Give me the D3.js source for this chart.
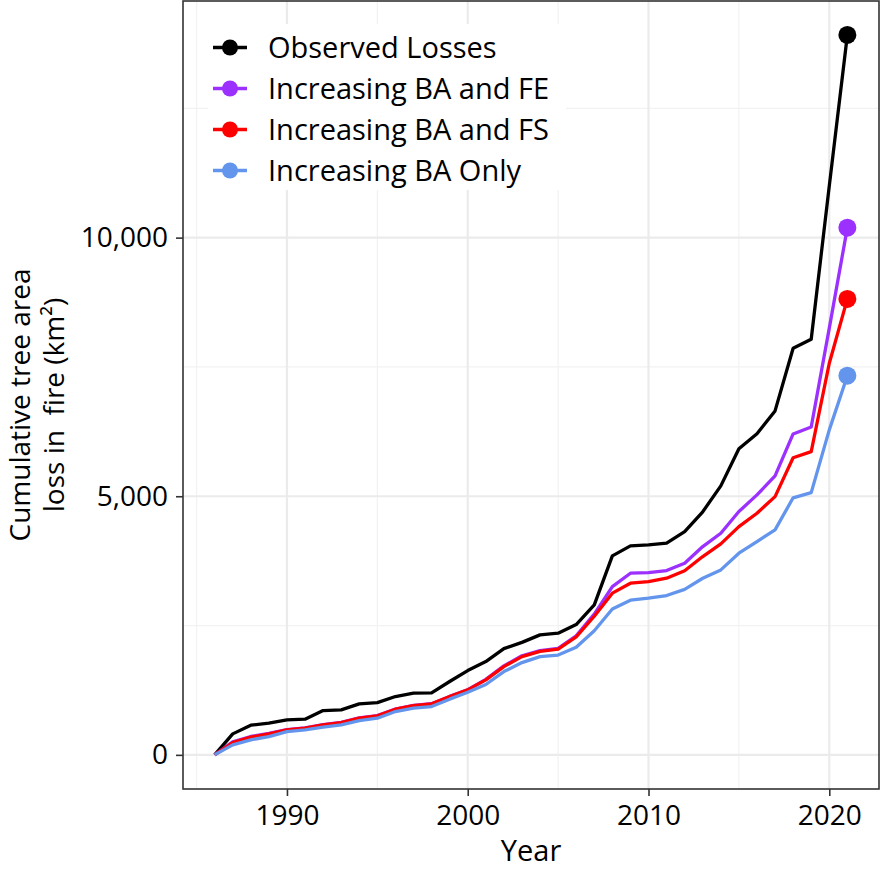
<!DOCTYPE html>
<html>
<head>
<meta charset="utf-8">
<script src="https://cdn.jsdelivr.net/npm/d3@7"></script>
<style>
  body { margin: 0; background: #fff; }
  svg text { font-family: "Open Sans", sans-serif; fill: #000; }
</style>
</head>
<body>
<div id="d3"></div>
<script>
const years = d3.range(1986, 2022);

const observed = [0, 406, 574, 612, 676, 690, 857, 870, 986, 1011, 1128, 1192, 1200, 1418, 1630, 1804,
    2055, 2175, 2320, 2352, 2520, 2900, 3847, 4040, 4060, 4092, 4317, 4700, 5200, 5920,
    6210, 6650, 7862, 8036, 11000, 13918];
const ba_fe = [0, 250, 355, 415, 490, 520, 585, 630, 715, 760, 885, 955, 990, 1130, 1260, 1460,
    1720, 1915, 2015, 2060, 2300, 2720, 3254, 3512, 3525, 3563, 3705, 4027, 4285, 4704,
    5026, 5393, 6205, 6340, 8250, 10193];
const ba_fs = [0, 238, 342, 406, 483, 516, 580, 625, 709, 754, 883, 953, 986, 1128, 1257, 1450,
    1707, 1900, 2000, 2045, 2280, 2680, 3126, 3319, 3351, 3415, 3560, 3834, 4079, 4413,
    4672, 4993, 5745, 5863, 7572, 8815];
const ba_only = [0, 193, 290, 354, 451, 483, 535, 580, 663, 709, 837, 902, 934, 1077, 1210, 1360,
    1610, 1784, 1900, 1930, 2080, 2400, 2820, 2990, 3030, 3080, 3200, 3415, 3576, 3899,
    4124, 4350, 4970, 5070, 6283, 7330];

const series_names = ["Observed Losses", "Increasing BA and FE", "Increasing BA and FS", "Increasing BA Only"];
const series_colors = ["#000000", "#9B30FF", "#FF0000", "#6495ED"];
const y_ticks = [0, 5000, 10000];
const x_ticks = [1990, 2000, 2010, 2020];

const width = 881;
const height = 869;
const panel = { left: 183, right: 879, top: 1, bottom: 789 };

const series = [observed, ba_fe, ba_fs, ba_only].map((vals, i) => {
    return {
        name: series_names[i],
        color: series_colors[i],
        values: vals.map((v, j) => ({ year: years[j], value: v }))
    };
});

const x = d3.scaleLinear().domain([1984.25, 2022.75]).range([panel.left, panel.right]);
const y = d3.scaleLinear().domain([-660, 14575]).range([panel.bottom, panel.top]);

const svg = d3.select("#d3")
    .append("svg")
    .attr("width", width)
    .attr("height", height);

// grid lines
const grid = svg.append("g");
grid.selectAll(".minor-x")
    .data([1985, 1995, 2005, 2015])
    .enter()
    .append("line")
    .attr("x1", d => x(d)).attr("x2", d => x(d))
    .attr("y1", panel.top).attr("y2", panel.bottom)
    .attr("stroke", "#F2F2F2").attr("stroke-width", 1.2);
grid.selectAll(".minor-y")
    .data([2500, 7500, 12500])
    .enter()
    .append("line")
    .attr("x1", panel.left).attr("x2", panel.right)
    .attr("y1", d => y(d)).attr("y2", d => y(d))
    .attr("stroke", "#F2F2F2").attr("stroke-width", 1.2);
grid.selectAll(".major-x")
    .data(x_ticks)
    .enter()
    .append("line")
    .attr("x1", d => x(d)).attr("x2", d => x(d))
    .attr("y1", panel.top).attr("y2", panel.bottom)
    .attr("stroke", "#EBEBEB").attr("stroke-width", 2.2);
grid.selectAll(".major-y")
    .data(y_ticks)
    .enter()
    .append("line")
    .attr("x1", panel.left).attr("x2", panel.right)
    .attr("y1", d => y(d)).attr("y2", d => y(d))
    .attr("stroke", "#EBEBEB").attr("stroke-width", 2.2);

// lines
const line = d3.line()
    .x(d => x(d.year))
    .y(d => y(d.value));

svg.selectAll(".series")
    .data(series)
    .enter()
    .append("path")
    .attr("fill", "none")
    .attr("stroke", d => d.color)
    .attr("stroke-width", 3.3)
    .attr("stroke-linejoin", "round")
    .attr("d", d => line(d.values));

// end points
svg.selectAll(".endpoint")
    .data(series)
    .enter()
    .append("circle")
    .attr("cx", d => x(d.values[d.values.length - 1].year))
    .attr("cy", d => y(d.values[d.values.length - 1].value))
    .attr("r", 9)
    .attr("fill", d => d.color);

// panel border
svg.append("rect")
    .attr("x", panel.left)
    .attr("y", panel.top)
    .attr("width", panel.right - panel.left)
    .attr("height", panel.bottom - panel.top)
    .attr("fill", "none")
    .attr("stroke", "#333333")
    .attr("stroke-width", 1.6);

// axes
const x_axis = svg.append("g")
    .attr("transform", `translate(0,${panel.bottom})`)
    .call(d3.axisBottom(x).tickValues(x_ticks).tickFormat(d3.format("d")).tickSize(7).tickPadding(9));
const y_axis = svg.append("g")
    .attr("transform", `translate(${panel.left},0)`)
    .call(d3.axisLeft(y).tickValues(y_ticks).tickFormat(d3.format(",")).tickSize(7).tickPadding(8));

[x_axis, y_axis].forEach(a => {
    a.select(".domain").remove();
    a.selectAll(".tick line").attr("stroke", "#333333").attr("stroke-width", 1.6);
    a.selectAll(".tick text").attr("font-size", 28).attr("font-family", "'Open Sans', sans-serif").attr("fill", "#000");
});

// axis titles
svg.append("text")
    .attr("x", (panel.left + panel.right) / 2)
    .attr("y", 861)
    .attr("text-anchor", "middle")
    .attr("font-size", 29)
    .text("Year");

const y_title = svg.append("text")
    .attr("transform", "translate(30,405) rotate(-90)")
    .attr("text-anchor", "middle")
    .attr("font-size", 28)
    .style("white-space", "pre");
y_title.append("tspan").attr("x", 0).attr("y", 0).text("Cumulative tree area");
y_title.append("tspan").attr("x", 0).attr("y", 34).text("loss in  fire (km²)");

// legend
const legend = svg.append("g");
legend.append("rect")
    .attr("x", 208).attr("y", 24)
    .attr("width", 358).attr("height", 166)
    .attr("fill", "#fff");

const legend_rows = legend.selectAll(".row")
    .data(series)
    .enter()
    .append("g")
    .attr("transform", (d, i) => `translate(0,${47.5 + i * 41})`);

legend_rows.append("line")
    .attr("x1", 213).attr("x2", 247)
    .attr("stroke", d => d.color)
    .attr("stroke-width", 3.3);
legend_rows.append("circle")
    .attr("cx", 230)
    .attr("r", 8)
    .attr("fill", d => d.color);
legend_rows.append("text")
    .attr("x", 268)
    .attr("dy", "0.36em")
    .attr("font-size", 29)
    .text(d => d.name);
</script>
</body>
</html>
